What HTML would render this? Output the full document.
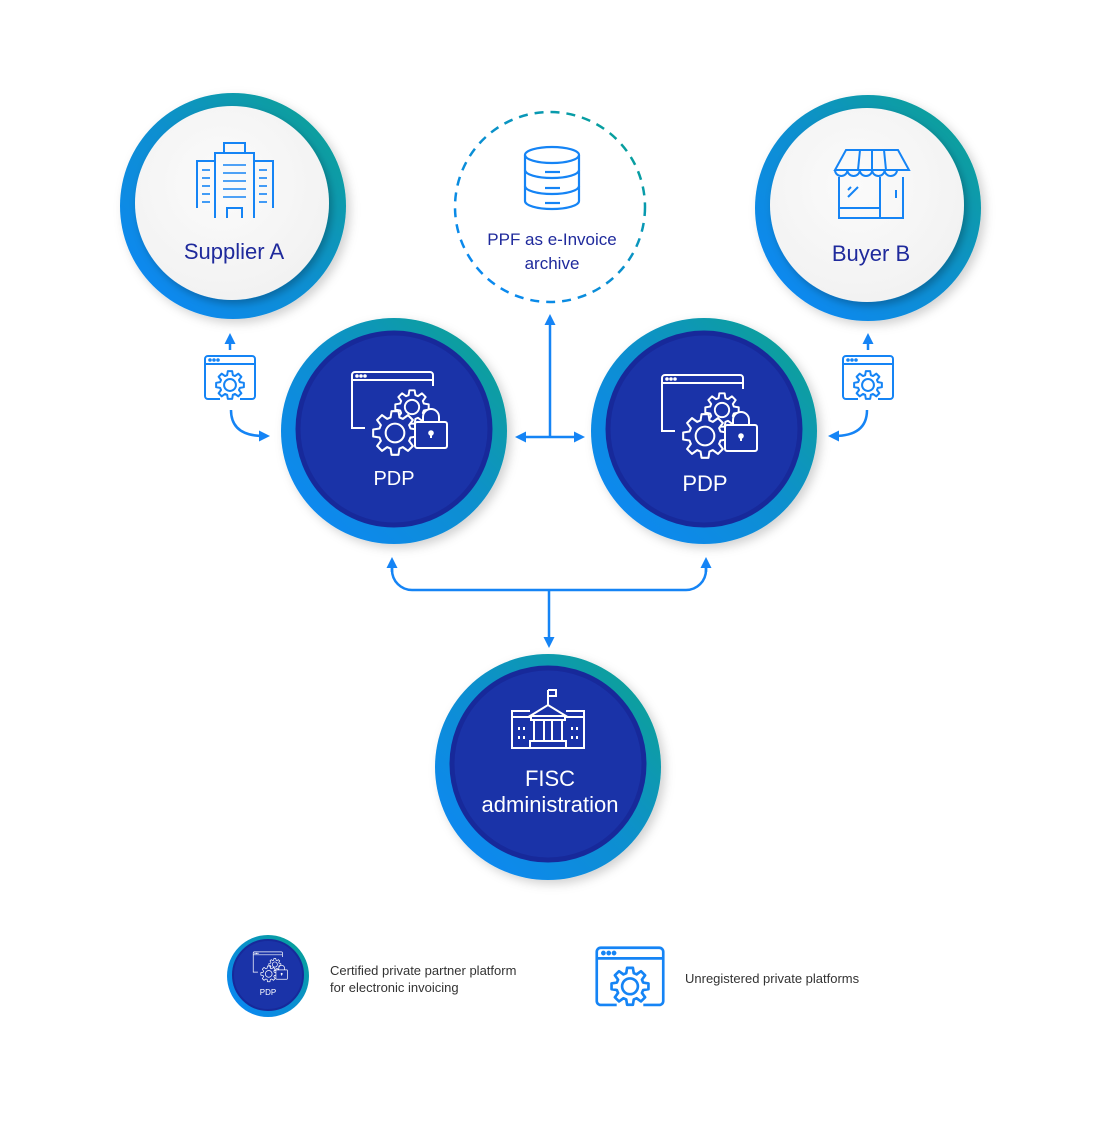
<!DOCTYPE html>
<html><head><meta charset="utf-8"><style>
html,body{margin:0;padding:0;background:#fff;}
svg{display:block;}
text{font-family:"Liberation Sans",sans-serif;}
</style></head><body>
<svg width="1100" height="1130" viewBox="0 0 1100 1130" xmlns="http://www.w3.org/2000/svg">
<defs>
<linearGradient id="rg" x1="0" y1="1" x2="1" y2="0">
<stop offset="0" stop-color="#0a86fb"/><stop offset="0.5" stop-color="#0a8fd0"/><stop offset="1" stop-color="#06a58a"/>
</linearGradient>
<radialGradient id="wg" cx="0.45" cy="0.4" r="0.6"><stop offset="0" stop-color="#fbfbfb"/><stop offset="1" stop-color="#f2f2f2"/></radialGradient>
<filter id="sh" x="-20%" y="-20%" width="140%" height="140%"><feDropShadow dx="3" dy="4" stdDeviation="4" flood-color="#000" flood-opacity="0.25"/></filter>
<filter id="sh2" x="-20%" y="-20%" width="140%" height="140%"><feDropShadow dx="4" dy="4" stdDeviation="5" flood-color="#000" flood-opacity="0.18"/></filter>
<marker id="ar" markerWidth="11" markerHeight="11" refX="5" refY="5.5" orient="auto" markerUnits="userSpaceOnUse" viewBox="0 0 11 11"><path d="M0,0 L11,5.5 L0,11 z" fill="#1584f5"/></marker>
<path id="gp" d="M9.13,-2.62 L12.84,-2.03 L12.84,2.03 L9.13,2.62 L8.31,4.61 L10.52,7.64 L7.64,10.52 L4.61,8.31 L2.62,9.13 L2.03,12.84 L-2.03,12.84 L-2.62,9.13 L-4.61,8.31 L-7.64,10.52 L-10.52,7.64 L-8.31,4.61 L-9.13,2.62 L-12.84,2.03 L-12.84,-2.03 L-9.13,-2.62 L-8.31,-4.61 L-10.52,-7.64 L-7.64,-10.52 L-4.61,-8.31 L-2.62,-9.13 L-2.03,-12.84 L2.03,-12.84 L2.62,-9.13 L4.61,-8.31 L7.64,-10.52 L10.52,-7.64 L8.31,-4.61 Z" stroke-linejoin="round"/>
<g id="plat" fill="none" stroke="#1584f5" stroke-width="2">
<path d="M-10,21 H-22 a3,3 0 0 1 -3,-3 V-19 a3,3 0 0 1 3,-3 H22 a3,3 0 0 1 3,3 V18 a3,3 0 0 1 -3,3 H10"/>
<line x1="-25" y1="-14" x2="25" y2="-14"/>
<circle cx="-20" cy="-18" r="0.8" fill="#1584f5"/><circle cx="-16" cy="-18" r="0.8" fill="#1584f5"/><circle cx="-12" cy="-18" r="0.8" fill="#1584f5"/>
<g transform="translate(0,7) scale(1.08)" stroke-width="1.85"><use href="#gp" fill="#fff"/><circle r="5.5"/></g>
</g>
<g id="pdpicon" fill="none" stroke="#fff" stroke-width="2">
<path d="M-28,28 H-41 V-25 a3,3 0 0 1 3,-3 H37 a3,3 0 0 1 3,3 V-14"/>
<line x1="-41" y1="-20" x2="40" y2="-20"/>
<circle cx="-36" cy="-24" r="0.8" fill="#fff"/><circle cx="-32" cy="-24" r="0.8" fill="#fff"/><circle cx="-28" cy="-24" r="0.8" fill="#fff"/>
<g transform="translate(19,7) scale(1.3)" stroke-width="1.5"><use href="#gp" fill="#1a33a8"/><circle r="5.5"/></g>
<g transform="translate(2,33) scale(1.7)" stroke-width="1.2"><use href="#gp" fill="#1a33a8"/><circle r="5.5"/></g>
<path d="M30,22 v-5 a8,8 0 0 1 16,0 v5" fill="#1a33a8"/>
<rect x="22" y="22" width="32" height="26" rx="2" fill="#1a33a8"/>
<circle cx="38" cy="33" r="1.8" fill="#fff"/><line x1="38" y1="33" x2="38" y2="38"/>
</g>
</defs>

<g stroke="#1584f5" stroke-width="2.5" fill="none">
<line x1="550" y1="437" x2="550" y2="320" marker-end="url(#ar)"/>
<line x1="550" y1="437" x2="521" y2="437" marker-end="url(#ar)"/>
<line x1="550" y1="437" x2="579" y2="437" marker-end="url(#ar)"/>
<path d="M392,566 V570 a20,20 0 0 0 20,20 H686 a20,20 0 0 0 20,-20 V566"/>
<line x1="392" y1="572" x2="392" y2="563" marker-end="url(#ar)"/>
<line x1="706" y1="572" x2="706" y2="563" marker-end="url(#ar)"/>
<line x1="549" y1="590" x2="549" y2="642" marker-end="url(#ar)"/>
<line x1="230" y1="350" x2="230" y2="339" marker-end="url(#ar)"/>
<line x1="868" y1="350" x2="868" y2="339" marker-end="url(#ar)"/>
<path d="M231,410 q0,26 33,26" marker-end="url(#ar)"/>
<path d="M867,410 q0,26 -33,26" marker-end="url(#ar)"/>
</g>
<use href="#plat" x="230" y="378"/>
<use href="#plat" x="868" y="378"/>

<circle cx="233" cy="206" r="113" fill="url(#rg)" filter="url(#sh2)"/>
<circle cx="232" cy="203" r="97" fill="url(#wg)" filter="url(#sh)"/>
<g fill="none" stroke="#1584f5" stroke-width="2">
<rect x="224" y="143" width="21" height="10"/>
<path d="M215,218 V153 H254 V218"/>
<path d="M197,208 V161 H215 M254,161 H273 V208"/>
<path d="M227,218 V208 H242 V218"/>
<g stroke-width="1.6">
<line x1="223" y1="165" x2="246" y2="165"/><line x1="223" y1="173" x2="246" y2="173"/><line x1="223" y1="181" x2="246" y2="181"/><line x1="223" y1="189" x2="246" y2="189"/><line x1="223" y1="197" x2="246" y2="197"/>
<line x1="202" y1="170" x2="210" y2="170"/><line x1="202" y1="178" x2="210" y2="178"/><line x1="202" y1="186" x2="210" y2="186"/><line x1="202" y1="194" x2="210" y2="194"/><line x1="202" y1="202" x2="210" y2="202"/>
<line x1="259" y1="170" x2="267" y2="170"/><line x1="259" y1="178" x2="267" y2="178"/><line x1="259" y1="186" x2="267" y2="186"/><line x1="259" y1="194" x2="267" y2="194"/><line x1="259" y1="202" x2="267" y2="202"/>
</g></g>
<text x="234" y="259" text-anchor="middle" font-size="22" fill="#1f2a9c">Supplier A</text>

<circle cx="868" cy="208" r="113" fill="url(#rg)" filter="url(#sh2)"/>
<circle cx="867" cy="205" r="97" fill="url(#wg)" filter="url(#sh)"/>
<g fill="none" stroke="#1584f5" stroke-width="2">
<path d="M846,150 H898 L909,170 H835 Z"/>
<path d="M835,170 a6.2,6 0 0 0 12.4,0 a6.2,6 0 0 0 12.4,0 a6.2,6 0 0 0 12.4,0 a6.2,6 0 0 0 12.4,0 a6.2,6 0 0 0 12.4,0"/>
<line x1="860" y1="150" x2="858" y2="170"/><line x1="872" y1="150" x2="872" y2="170"/><line x1="884" y1="150" x2="886" y2="170"/>
<path d="M839,177 V218 H903 V177"/>
<path d="M839,208 H880 V177 M880,218 V208"/><line x1="896" y1="190" x2="896" y2="198"/>
<line x1="848" y1="197" x2="858" y2="187"/><line x1="848" y1="190" x2="851" y2="187"/>
</g>
<text x="871" y="261" text-anchor="middle" font-size="22" fill="#1f2a9c">Buyer B</text>

<circle cx="550" cy="207" r="95" fill="none" stroke="url(#rg)" stroke-width="2.5" stroke-dasharray="9 7"/>
<g fill="none" stroke="#1584f5" stroke-width="2.2">
<ellipse cx="552" cy="155" rx="27" ry="8"/>
<path d="M525,155 V201 a27,8 0 0 0 54,0 V155"/>
<path d="M525,170 a27,8 0 0 0 54,0"/><path d="M525,186 a27,8 0 0 0 54,0"/>
<line x1="545" y1="172" x2="560" y2="172"/><line x1="545" y1="188" x2="560" y2="188"/><line x1="545" y1="203" x2="560" y2="203"/>
</g>
<text x="552" y="245" text-anchor="middle" font-size="17" fill="#1f2a9c">PPF as e-Invoice</text>
<text x="552" y="269" text-anchor="middle" font-size="17" fill="#1f2a9c">archive</text>

<circle cx="394" cy="431" r="113" fill="url(#rg)" filter="url(#sh2)"/>
<circle cx="394" cy="429" r="96" fill="#1a33a8" stroke="#17299a" stroke-width="5"/>
<use href="#pdpicon" x="393" y="400"/>
<text x="394" y="485" text-anchor="middle" font-size="20" fill="#fff">PDP</text>

<circle cx="704" cy="431" r="113" fill="url(#rg)" filter="url(#sh2)"/>
<circle cx="704" cy="429" r="96" fill="#1a33a8" stroke="#17299a" stroke-width="5"/>
<use href="#pdpicon" x="703" y="403"/>
<text x="705" y="491" text-anchor="middle" font-size="22" fill="#fff">PDP</text>

<circle cx="548" cy="767" r="113" fill="url(#rg)" filter="url(#sh2)"/>
<circle cx="548" cy="764" r="96" fill="#1a33a8" stroke="#17299a" stroke-width="5"/>
<g fill="none" stroke="#fff" stroke-width="2">
<line x1="548" y1="690" x2="548" y2="706"/><path d="M548,690 H556 V696 H548"/>
<path d="M530,716 L548,705 L566,716 Z"/>
<rect x="531" y="716" width="34" height="4"/>
<path d="M534,720 V741 M544,720 V741 M552,720 V741 M562,720 V741"/>
<rect x="530" y="741" width="36" height="7"/>
<path d="M530,711 H512 V748 H530 M512,717 H530"/>
<path d="M566,711 H584 V748 H566 M566,717 H584"/>
<path d="M519,727 v3 M524,727 v3 M519,736 v3 M524,736 v3 M572,727 v3 M577,727 v3 M572,736 v3 M577,736 v3"/>
</g>
<text x="550" y="786" text-anchor="middle" font-size="22" fill="#fff">FISC</text>
<text x="550" y="812" text-anchor="middle" font-size="22" fill="#fff">administration</text>

<circle cx="268" cy="976" r="41" fill="url(#rg)"/>
<circle cx="268" cy="975" r="35" fill="#1a33a8" stroke="#17299a" stroke-width="2"/>
<g transform="translate(268,962) scale(0.36)"><use href="#pdpicon"/></g>
<text x="268" y="995" text-anchor="middle" font-size="8" fill="#fff">PDP</text>
<text x="330" y="975" font-size="13" fill="#333">Certified private partner platform</text>
<text x="330" y="992" font-size="13" fill="#333">for electronic invoicing</text>
<g transform="translate(630,977) scale(1.33)"><use href="#plat"/></g>
<text x="685" y="983" font-size="13" fill="#333">Unregistered private platforms</text>
</svg>
</body></html>
